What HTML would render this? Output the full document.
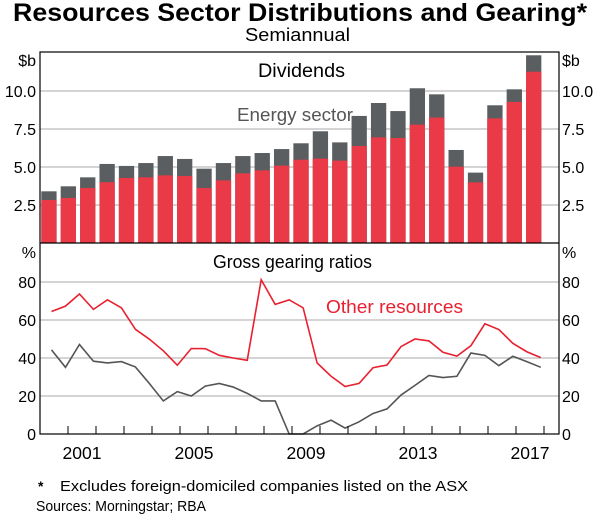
<!DOCTYPE html>
<html><head><meta charset="utf-8"><style>
body{margin:0;background:#fff;font-family:"Liberation Sans",Arial,sans-serif}
svg text{font-family:"Liberation Sans",Arial,sans-serif}
</style></head><body>
<svg id="c" width="600" height="516" xmlns="http://www.w3.org/2000/svg">
<text x="13" y="21" font-size="25" font-weight="bold" textLength="574" lengthAdjust="spacingAndGlyphs">Resources Sector Distributions and Gearing*</text>
<text x="245" y="41" font-size="18" textLength="105" lengthAdjust="spacingAndGlyphs">Semiannual</text>
<g id="grid"></g>
<g id="bars"></g>
<g id="lines"></g>
<rect x="40" y="52" width="519" height="382" fill="none" stroke="#000" stroke-width="1.2"/>
<line x1="40" y1="243" x2="559" y2="243" stroke="#000" stroke-width="1.2"/>
<text x="258" y="77" font-size="19" textLength="87" lengthAdjust="spacingAndGlyphs">Dividends</text>
<text x="237" y="121" font-size="18.5" fill="#555" textLength="116" lengthAdjust="spacingAndGlyphs">Energy sector</text>
<text x="213" y="268" font-size="18" textLength="159" lengthAdjust="spacingAndGlyphs">Gross gearing ratios</text>
<text x="326" y="313" font-size="18.5" fill="#e8202f" textLength="137" lengthAdjust="spacingAndGlyphs">Other resources</text>
<text x="36" y="66" text-anchor="end" font-size="16">$b</text>
<text x="562" y="66" font-size="16">$b</text>
<text x="36" y="258" text-anchor="end" font-size="16">%</text>
<text x="562" y="258" font-size="16">%</text>
<g id="ticks"></g>
<text x="38" y="491" font-size="14" font-weight="bold">*</text>
<text x="60" y="491" font-size="15" textLength="408" lengthAdjust="spacingAndGlyphs">Excludes foreign-domiciled companies listed on the ASX</text>
<text x="36" y="511" font-size="15" textLength="170" lengthAdjust="spacingAndGlyphs">Sources: Morningstar; RBA</text>
</svg>
<script>
const barTotal=[3.4,3.73,4.32,5.2,5.07,5.26,5.72,5.53,4.89,5.26,5.72,5.92,6.18,6.56,7.35,6.62,8.36,9.21,8.68,10.18,9.78,6.12,4.63,9.06,10.11,12.35];
const barOther=[2.83,2.96,3.62,4.0,4.28,4.32,4.45,4.41,3.62,4.12,4.58,4.78,5.09,5.48,5.55,5.42,6.38,6.95,6.91,7.79,8.25,5.02,3.99,8.2,9.28,11.27];
const otherRes=[64.5,67.3,73.7,65.6,70.6,66.4,55.1,49.9,43.8,36.2,45,44.9,41.4,40,38.8,81.2,68.2,70.6,66.4,37.4,30.4,25,26.6,34.9,36.3,46,50,49,43,41,46.5,58,55,47.7,43.3,40.2];
const energy=[44.3,35.1,47.1,38.3,37.4,38.1,35.3,26.6,17.4,22.3,20,25.2,26.6,24.7,21.4,17.4,17.4,0,0,4.3,7.3,3.1,6.4,10.8,13.2,20.5,25.6,30.8,29.7,30.4,42.6,41.4,36,40.9,38.1,35.1];
const topTicks=[2.5,5.0,7.5,10.0];
const botTicks=[0,20,40,60,80];
const yearLabels=["2001","2005","2009","2013","2017"];
const yearLabelIdx=[1,5,9,13,17];
const NS="http://www.w3.org/2000/svg";
function el(t,a,p){const e=document.createElementNS(NS,t);for(const k in a)e.setAttribute(k,a[k]);document.getElementById(p).appendChild(e);return e;}
const yTop=v=>243-v*15.2;
const yBot=v=>434-v*1.9;
const xBar=i=>41.3+i*19.39;
const xLine=i=>51.5+i*13.98;
const xYear=i=>40+i*28;
topTicks.forEach(v=>{
 const g=el('line',{x1:40,x2:559,y1:yTop(v),y2:yTop(v),stroke:'#bbb','stroke-width':1.2},'grid');
 
 
 const a=el('text',{x:36,y:yTop(v)+6,'text-anchor':'end','font-size':16},'ticks');a.textContent=v.toFixed(1);
 
 
 const b=el('text',{x:562,y:yTop(v)+6,'font-size':16},'ticks');b.textContent=v.toFixed(1);
 
 
});
botTicks.forEach(v=>{
 if(v>0){const g=el('line',{x1:40,x2:559,y1:yBot(v),y2:yBot(v),stroke:'#bbb','stroke-width':1.2},'grid');
 
 }
 const a=el('text',{x:36,y:yBot(v)+6,'text-anchor':'end','font-size':16},'ticks');a.textContent=v;
 
 
 const b=el('text',{x:562,y:yBot(v)+6,'font-size':16},'ticks');b.textContent=v;
 
 
});
barTotal.forEach((v,i)=>{
 const r=el('rect',{x:xBar(i),y:yTop(v),width:15.3,height:243-yTop(v),fill:'#5a5e60'},'bars');
 
 
 const o=barOther[i];
 const q=el('rect',{x:xBar(i),y:yTop(o),width:15.3,height:243-yTop(o),fill:'#ea3a48'},'bars');
 
 
});
for(let i=1;i<=18;i++){
 const t=el('line',{x1:xYear(i),x2:xYear(i),y1:434,y2:426,stroke:'#000','stroke-width':1},'ticks');
 
 
}
yearLabels.forEach((s,k)=>{
 const t=el('text',{x:xYear(yearLabelIdx[k])+14,y:459,'text-anchor':'middle','font-size':17.5},'ticks');t.textContent=s;
 
 
});
function line(arr,col,name){
 const p=el('polyline',{points:arr.map((v,i)=>xLine(i)+','+yBot(v)).join(' '),fill:'none',stroke:col,'stroke-width':1.6},'lines');
 
 
}
line(energy,'#555','energy-gearing-line');
line(otherRes,'#e8202f','other-resources-gearing-line');
</script>
</body></html>
